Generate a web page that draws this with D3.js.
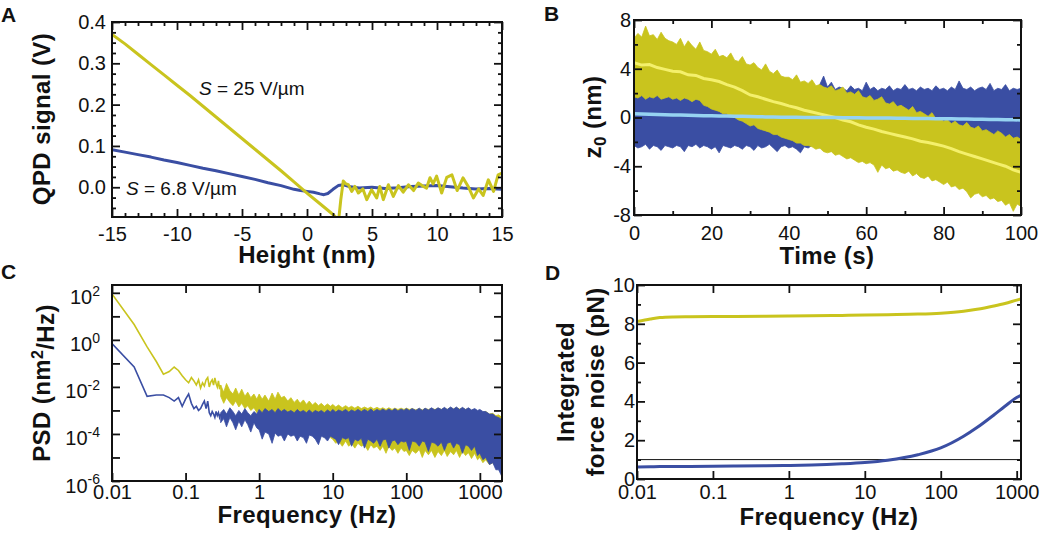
<!DOCTYPE html>
<html><head><meta charset="utf-8">
<script src="https://cdn.jsdelivr.net/npm/d3@7/dist/d3.min.js"></script>
<style>
body{margin:0;background:#fff}
svg{display:block}
text{font-family:"Liberation Sans",Arial,Helvetica,sans-serif;fill:#111}
</style></head>
<body><svg id="fig" width="1050" height="539"></svg>
<script>
// ---------------- Panel A data ----------------
const heightYellow = [-15,-14,-13,-12,-11,-10,-9,-8,-7,-6,-5,-4,-3,-2,-1,0,1,2,2.3,2.45,2.6,2.79,3.0,3.18,3.44,3.69,3.95,4.3,4.6,4.97,5.36,5.6,5.87,6.26,6.64,7.03,7.4,7.8,8.2,8.56,8.85,9.2,9.46,9.7,9.97,10.36,10.75,11.15,11.55,12.0,12.4,12.8,13.2,13.55,13.95,14.35,14.7,15];
const qpdYellow = [0.370,0.347,0.322,0.297,0.272,0.247,0.222,0.196,0.170,0.144,0.118,0.092,0.066,0.040,0.013,-0.014,-0.040,-0.066,-0.075,-0.075,-0.03,0.015,0.008,0.006,-0.010,0.002,-0.014,-0.004,-0.030,-0.006,-0.026,0.002,-0.030,0.006,-0.022,0.004,-0.012,0.006,-0.008,0.010,0.004,-0.002,0.023,0.008,0.027,-0.014,0.024,0.030,-0.008,0.023,0.002,-0.026,-0.004,-0.020,0.018,-0.010,0.030,0.034];
const heightBlue = [-15,-14,-13,-12,-11,-10,-9,-8,-7,-6,-5,-4,-3,-2,-1,-0.5,0,0.5,1,1.3,1.6,2,2.4,2.8,3.2,4,5,6,7,8,9,10,11,12,13,14,15];
const qpdBlue = [0.091,0.085,0.079,0.073,0.066,0.060,0.053,0.046,0.040,0.033,0.026,0.019,0.011,0.004,-0.005,-0.008,-0.010,-0.012,-0.016,-0.018,-0.015,-0.005,0.004,0.006,0.002,-0.002,0.000,-0.003,-0.001,0.002,0.003,0.004,0.001,-0.002,-0.004,-0.003,-0.005];
const aXMajor = [-15,-10,-5,0,5,10,15];
const aXMinor = [-14,-13,-12,-11,-9,-8,-7,-6,-4,-3,-2,-1,1,2,3,4,6,7,8,9,11,12,13,14];
const aYMajor = [0,0.1,0.2,0.3,0.4];
const aYMinor = [-0.05,-0.025,0.025,0.05,0.075,0.125,0.15,0.175,0.225,0.25,0.275,0.325,0.35,0.375];

// ---------------- Panel B data (envelopes at 1 s, running means at 2 s) ----------------
const timeBand = d3.range(0,101,1);
const yellowUpper = [6.5,6.9,6.6,7.5,6.7,6.8,6.4,7.0,6.5,6.3, 6.2,6.0,6.5,5.8,6.3,5.9,5.6,6.2,5.5,5.4, 5.2,5.6,5.0,5.1,4.9,5.3,4.7,4.6,5.0,4.4, 4.3,4.5,4.1,3.9,4.4,3.8,3.6,3.9,3.4,3.3, 3.3,3.1,3.5,2.9,3.0,2.8,3.1,2.6,2.7,2.5, 2.4,2.6,2.2,2.3,2.5,2.0,2.1,1.9,2.2,1.7, 1.6,1.8,1.4,1.5,1.7,1.2,1.1,1.3,0.9,1.0, 0.8,0.6,0.9,0.4,0.5,0.3,0.1,0.4,-0.1,0.0, -0.3,-0.2,-0.5,-0.3,-0.6,-0.7,-0.4,-0.8,-0.9,-0.7, -1.1,-1.0,-1.2,-1.4,-1.1,-1.3,-1.6,-1.4,-1.7,-1.6,-1.8];
const yellowLower = [1.7,1.6,1.8,1.5,1.7,1.6,1.8,1.5,1.6,1.7, 1.5,1.6,1.4,1.6,1.5,1.3,1.5,1.4,1.0,0.9, 0.7,0.6,0.5,0.3,0.3,0.1,0.0,-0.2,-0.3,-0.5, -0.7,-0.6,-0.9,-1.0,-1.1,-1.2,-1.4,-1.4,-1.6,-1.7, -1.8,-1.9,-2.1,-2.1,-2.3,-2.3,-2.4,-2.6,-2.5,-2.8, -2.9,-2.8,-3.1,-3.0,-3.2,-3.4,-3.3,-3.5,-3.7,-3.6, -3.8,-3.7,-3.9,-4.5,-3.9,-4.2,-4.1,-4.4,-4.3,-4.5, -4.6,-4.4,-4.8,-4.6,-4.9,-5.0,-4.8,-5.2,-5.1,-5.3, -5.5,-5.3,-5.7,-5.6,-5.9,-5.8,-6.1,-6.6,-6.3,-6.2, -6.5,-6.4,-6.7,-6.6,-6.9,-6.8,-7.2,-7.0,-7.7,-7.1,-7.3];
const blueUpper = [2.2,2.4,2.3,2.1,2.5,2.3,2.2,2.4,2.2,2.3, 2.4,2.2,2.3,2.5,2.2,2.3,2.4,2.2,2.3,2.2, 2.3,2.4,2.2,2.5,2.3,2.2,2.4,2.3,2.2,2.4, 2.2,2.3,2.5,2.2,2.4,2.3,2.2,2.4,2.3,2.5, 2.3,2.2,2.4,2.3,2.5,2.2,2.6,2.4,2.7,3.4, 2.5,2.9,2.3,2.5,2.4,2.2,2.6,2.3,2.4,2.2, 2.9,2.3,2.5,2.2,2.4,2.3,2.6,2.2,2.4,2.3, 2.7,2.3,2.4,2.2,2.5,2.3,2.4,2.2,2.6,2.3, 2.4,2.2,2.5,2.3,3.0,2.4,2.3,2.5,2.2,2.4, 2.5,2.3,2.8,2.2,2.4,2.3,2.7,2.2,2.4,2.3,2.4];
const blueLower = [-2.3,-2.5,-2.4,-2.2,-2.6,-2.3,-2.4,-2.7,-2.3,-2.4, -2.5,-2.3,-2.4,-2.8,-2.3,-2.4,-2.2,-2.5,-2.3,-2.4, -2.6,-2.4,-2.9,-2.3,-2.4,-2.5,-2.3,-2.4,-2.6,-2.3, -2.4,-2.7,-2.3,-2.5,-2.4,-2.2,-2.5,-2.8,-2.4,-2.3, -2.5,-2.4,-2.6,-2.9,-2.4,-2.5,-2.3,-2.4,-2.5,-2.4, -2.3,-2.5,-2.4,-2.6,-2.3,-2.4,-2.5,-2.3,-2.4,-2.6, -2.3,-2.5,-2.4,-2.3,-2.6,-2.4,-2.5,-2.3,-2.4,-2.5, -2.3,-2.4,-2.6,-2.3,-2.5,-2.4,-2.3,-2.5,-2.4,-2.6, -2.3,-2.4,-2.5,-2.3,-2.4,-2.6,-2.3,-2.5,-2.4,-2.3, -2.5,-2.4,-2.6,-2.3,-2.4,-2.5,-2.3,-2.4,-2.6,-2.3,-2.4];
const timeMean = d3.range(0,101,2);
const yellowMean = [4.5,4.3,4.35,4.1,3.95,3.8,3.75,3.5,3.45,3.2, 3.1,2.95,2.7,2.5,2.2,1.85,1.7,1.5,1.3,1.15, 0.95,0.8,0.6,0.45,0.3,0.15,0.0,-0.2,-0.35,-0.6, -0.8,-0.95,-1.15,-1.3,-1.45,-1.6,-1.75,-1.95,-2.05,-2.2, -2.35,-2.55,-2.8,-3.0,-3.2,-3.4,-3.6,-3.8,-4.0,-4.3,-4.5];
const blueMean = [0.3,0.28,0.26,0.25,0.22,0.2,0.2,0.18,0.16,0.15, 0.15,0.13,0.12,0.1,0.1,0.08,0.06,0.05,0.04,0.03, 0.02,0.02,0.01,0.0,0.0,0.0,-0.01,-0.02,-0.02,-0.03, -0.04,-0.04,-0.05,-0.05,-0.06,-0.07,-0.08,-0.08,-0.09,-0.1, -0.1,-0.11,-0.12,-0.13,-0.14,-0.15,-0.16,-0.17,-0.18,-0.19,-0.2];
const bXMajor = [0,20,40,60,80,100];
const bXMinor = [10,30,50,70,90];
const bYMajor = [-8,-4,0,4,8];
const bYMinor = [-6,-2,2,6];

// ---------------- Panel C data ----------------
const freqLow = [0.01,0.02,0.03,0.04,0.05,0.06,0.07,0.08,0.09,0.10,0.11,0.12,0.13,0.14,0.15,0.16,0.17,0.18,0.19,0.20,0.21,0.22,0.23,0.24,0.25,0.26,0.27,0.28,0.29,0.30];
const psdYellowLow = [90,4.5,0.5,0.12,0.035,0.045,0.07,0.05,0.03,0.02,0.015,0.025,0.018,0.012,0.02,0.009,0.015,0.011,0.02,0.025,0.01,0.016,0.02,0.012,0.024,0.014,0.01,0.018,0.008,0.012];
const psdBlueLow = [0.7,0.07,0.004,0.0045,0.0045,0.0035,0.0025,0.0035,0.0015,0.003,0.005,0.002,0.0012,0.0015,0.001,0.0012,0.0018,0.0025,0.0012,0.0025,0.0008,0.0006,0.0009,0.0007,0.0005,0.0009,0.0006,0.0008,0.0005,0.0007];
const freqBand = [0.3,0.33,0.36,0.4,0.44,0.48,0.53,0.58,0.64,0.7,0.77,0.85,0.93,1.0,1.1,1.2,1.35,1.5,1.65,1.8,2.0,2.2,2.45,2.7,3,3.3,3.6,4,4.4,4.8,5.3,5.8,6.4,7,7.7,8.5,9.3,10,11,12,13.5,15,16.5,18,20,22,24.5,27,30,33,36,40,44,48,53,58,64,70,77,85,93,100,110,120,135,150,165,180,200,220,245,270,300,330,360,400,440,480,530,580,640,700,770,850,930,1000,1100,1200,1350,1500,1650,1800,2000];
const psdYellowUpper = [1.2e-2,6e-3,1.4e-2,7e-3,5e-3,9e-3,4.5e-3,8e-3,4e-3,6e-3,3.5e-3,5e-3,3e-3, 5e-3,3e-3,4.5e-3,2.5e-3,5.5e-3,3e-3,6e-3,3.5e-3,4e-3,2.5e-3, 3.5e-3,2.2e-3,3e-3,2e-3,2.8e-3,1.8e-3,2.5e-3,1.7e-3,2.2e-3,1.6e-3,2e-3,1.5e-3,1.9e-3,1.5e-3, 1.8e-3,1.4e-3,1.7e-3,1.3e-3,1.6e-3,1.3e-3,1.5e-3,1.25e-3,1.5e-3,1.2e-3,1.4e-3,1.2e-3,1.4e-3,1.15e-3,1.35e-3,1.15e-3,1.3e-3,1.1e-3,1.3e-3,1.1e-3,1.25e-3,1.1e-3,1.25e-3,1.1e-3, 1.25e-3,1.1e-3,1.2e-3,1.05e-3,1.2e-3,1.05e-3,1.2e-3,1.1e-3,1.2e-3,1.1e-3,1.25e-3,1.1e-3,1.25e-3,1.1e-3,1.3e-3,1.15e-3,1.3e-3,1.15e-3,1.25e-3,1.1e-3,1.2e-3,1.0e-3,1.1e-3,9e-4, 1.0e-3,8e-4,9e-4,7e-4,7.5e-4,6e-4,6.5e-4,5e-4];
const psdYellowLower = [4e-3,2e-3,3.5e-3,2.2e-3,1.6e-3,2.5e-3,1.4e-3,2e-3,1.2e-3,1.6e-3,1.0e-3,1.3e-3,8e-4, 1.1e-3,7e-4,9e-4,6e-4,8e-4,5e-4,7e-4,4e-4,6e-4,4e-4, 3e-4,2e-4,2.5e-4,1.5e-4,2e-4,1.2e-4,1.5e-4,1e-4,1.2e-4,8e-5,1e-4,7e-5,9e-5,7e-5, 6e-5,4e-5,5e-5,3e-5,5e-5,3e-5,4e-5,2.5e-5,4e-5,3e-5,3.5e-5,2e-5,3.5e-5,2.5e-5,3e-5,2e-5,3e-5,1.5e-5,3e-5,2e-5,2.5e-5,1.5e-5,2.5e-5,1.8e-5, 2e-5,1.2e-5,2e-5,1.5e-5,2.2e-5,1e-5,2e-5,1.3e-5,2e-5,1e-5,1.8e-5,1.2e-5,2e-5,1.1e-5,1.8e-5,1.3e-5,2e-5,1e-5,1.8e-5,1.2e-5,1.6e-5,9e-6,1.5e-5,8e-6, 1e-5,6e-6,8e-6,5e-6,6e-6,4e-6,5e-6,3e-6];
const psdBlueUpper = [8e-4,1.1e-3,7e-4,1.3e-3,9e-4,6e-4,1e-3,7e-4,1.2e-3,8e-4,6e-4,9e-4,7e-4, 1.1e-3,8e-4,1.2e-3,9e-4,1.1e-3,8e-4,1.2e-3,9e-4,1.1e-3,8.5e-4, 1e-3,8e-4,1.1e-3,8.5e-4,1e-3,8e-4,1.05e-3,8e-4,1e-3,8.5e-4,1e-3,8e-4,1.05e-3,8.5e-4, 1.1e-3,8.5e-4,1.05e-3,9e-4,1.1e-3,8.5e-4,1.05e-3,9e-4,1.1e-3,9e-4,1.1e-3,9e-4,1.15e-3,9e-4,1.1e-3,9.5e-4,1.15e-3,9.5e-4,1.15e-3,9.5e-4,1.2e-3,9.5e-4,1.15e-3,1e-3, 1.2e-3,1e-3,1.2e-3,1e-3,1.25e-3,1e-3,1.25e-3,1.05e-3,1.3e-3,1.05e-3,1.3e-3,1.1e-3,1.35e-3,1.1e-3,1.4e-3,1.15e-3,1.4e-3,1.1e-3,1.35e-3,1.1e-3,1.3e-3,1.05e-3,1.2e-3,1e-3, 1.1e-3,9e-4,9e-4,7e-4,7e-4,5.5e-4,5e-4,4e-4];
const psdBlueLower = [3e-4,4.5e-4,2e-4,5e-4,3e-4,1.5e-4,3.5e-4,2e-4,4e-4,2.5e-4,1.2e-4,3e-4,1.8e-4, 1.5e-4,6e-5,1.2e-4,1e-4,4e-5,1.1e-4,8e-5,9e-5,5e-5,1e-4, 8e-5,9e-5,5e-5,8e-5,7e-5,4e-5,9e-5,8e-5,6e-5,3.5e-5,8e-5,7e-5,5e-5,8e-5, 7e-5,6e-5,3.5e-5,7e-5,6e-5,7e-5,3e-5,6e-5,5e-5,6.5e-5,2.5e-5,6e-5,5e-5,4e-5,6e-5,3e-5,5.5e-5,6e-5,2.5e-5,5e-5,5.5e-5,3.5e-5,5e-5,4.5e-5, 5e-5,2e-5,5e-5,4.5e-5,3e-5,5e-5,4.5e-5,1.8e-5,4.5e-5,4e-5,3e-5,4.5e-5,2e-5,4e-5,4.5e-5,2.5e-5,4e-5,3.5e-5,1.5e-5,3.5e-5,3e-5,2e-5,3e-5,1.2e-5, 1.5e-5,8e-6,1e-5,5e-6,6e-6,3e-6,3e-6,1.5e-6];
const cXTicks = [0.01,0.1,1,10,100,1000];
const cYTicks = [1e-6,1e-5,1e-4,1e-3,1e-2,1e-1,1,10,100];

// ---------------- Panel D data ----------------
const freqD = [0.01,0.015,0.02,0.03,0.05,0.1,0.2,0.5,1,2,5,10,20,50,100,200,300,500,700,1000,1140];
const forceYellow = [8.12,8.25,8.32,8.35,8.36,8.37,8.38,8.39,8.40,8.41,8.43,8.45,8.47,8.50,8.55,8.65,8.75,8.92,9.05,9.22,9.28];
const forceBlue = [0.62,0.63,0.64,0.64,0.65,0.66,0.67,0.68,0.70,0.72,0.78,0.85,0.97,1.25,1.60,2.20,2.65,3.30,3.75,4.20,4.32];
const forceRef = [1.0];
const dXTicks = [0.01,0.1,1,10,100,1000];
const dYMajor = [0,2,4,6,8,10];
const dYMinor = [1,3,5,7,9];

// ---------------- styles ----------------
const YEL = "#c9c41e", BLU = "#3a4ea3", LYEL = "#f4f06c", LBLU = "#96d3f2", INK = "#111";
const TICK_FS = 20;
const svg = d3.select("#fig");
svg.append("rect").attr("width",1050).attr("height",539).attr("fill","#fff");

function clip(id, b){
  svg.append("clipPath").attr("id",id).append("rect")
    .attr("x",b.l).attr("y",b.t).attr("width",b.r-b.l).attr("height",b.b-b.t);
  return svg.append("g").attr("clip-path",`url(#${id})`);
}
function ax(axis, tr, vals, size, fmt, pad){
  const a = svg.append("g").attr("transform",tr)
    .call(axis.tickValues(vals).tickSize(size).tickPadding(pad||0).tickFormat(fmt||(()=>"")));
  a.attr("font-size",null).attr("font-family",null);
  a.select(".domain").remove();
  a.selectAll("line").attr("stroke",INK).attr("stroke-width",1.8);
  a.selectAll("text").attr("font-size",TICK_FS).attr("fill",INK);
  return a;
}
function axes(b, x, y, o){
  const bx = ax(d3.axisBottom(x), `translate(0,${b.b})`, o.xMaj, -8, o.xFmt, o.xPad);
  if (o.xMin) ax(d3.axisBottom(x), `translate(0,${b.b})`, o.xMin, -4);
  ax(d3.axisTop(x), `translate(0,${b.t})`, o.xMaj, -8);
  if (o.xMin) ax(d3.axisTop(x), `translate(0,${b.t})`, o.xMin, -4);
  const ly = ax(d3.axisLeft(y), `translate(${b.l},0)`, o.yMaj, -8, o.yFmt, o.yPad);
  if (o.yMin) ax(d3.axisLeft(y), `translate(${b.l},0)`, o.yMin, -4);
  ax(d3.axisRight(y), `translate(${b.r},0)`, o.yMaj, -8);
  if (o.yMin) ax(d3.axisRight(y), `translate(${b.r},0)`, o.yMin, -4);
  return {bx, ly};
}
function frame(b){
  svg.append("rect").attr("x",b.l).attr("y",b.t).attr("width",b.r-b.l).attr("height",b.b-b.t)
    .attr("fill","none").attr("stroke",INK).attr("stroke-width",2);
}
function label(txt, x, y){
  svg.append("text").attr("x",x).attr("y",y).attr("font-size",21).attr("font-weight","bold").text(txt);
}
function xTitle(txt, x, y){
  return svg.append("text").attr("x",x).attr("y",y).attr("text-anchor","middle")
    .attr("font-size",24).attr("font-weight","bold").attr("letter-spacing",0.4).text(txt);
}
function yTitle(x, y){
  return svg.append("text").attr("transform",`translate(${x},${y}) rotate(-90)`).attr("text-anchor","middle")
    .attr("font-size",24).attr("font-weight","bold").attr("letter-spacing",0.4);
}
const plain = d => String(d);

// ================= Panel A =================
{
  const b = {l:112, r:502, t:22, b:217};
  const x = d3.scaleLinear().domain([-15,15]).range([b.l,b.r]);
  const y = d3.scaleLinear().domain([-0.072,0.4]).range([b.b,b.t]);
  const g = clip("clipA", b);
  const line = d3.line().x(d=>x(d[0])).y(d=>y(d[1]));
  g.append("path").attr("d", line(d3.zip(heightBlue, qpdBlue))).attr("fill","none").attr("stroke",BLU).attr("stroke-width",3).attr("stroke-linejoin","round");
  g.append("path").attr("d", line(d3.zip(heightYellow, qpdYellow))).attr("fill","none").attr("stroke",YEL).attr("stroke-width",3).attr("stroke-linejoin","round");
  axes(b, x, y, {xMaj:aXMajor, xMin:aXMinor, xFmt:plain, xPad:10, yMaj:aYMajor, yMin:aYMinor, yFmt:d3.format(".1f"), yPad:6});
  frame(b);
  const s1 = svg.append("text").attr("x",199).attr("y",95).attr("font-size",19);
  s1.append("tspan").attr("font-style","italic").text("S");
  s1.append("tspan").text(" = 25 V/µm");
  const s2 = svg.append("text").attr("x",126).attr("y",195).attr("font-size",19);
  s2.append("tspan").attr("font-style","italic").text("S");
  s2.append("tspan").text(" = 6.8 V/µm");
  xTitle("Height (nm)", 307, 263);
  yTitle(50, 119).text("QPD signal (V)");
  label("A", 1, 22);
}

// ================= Panel B =================
{
  const b = {l:634, r:1021, t:20, b:215};
  const x = d3.scaleLinear().domain([0,100]).range([b.l,b.r]);
  const y = d3.scaleLinear().domain([-8,8]).range([b.b,b.t]);
  const g = clip("clipB", b);
  const area = (lo, hi) => d3.area().x((d,i)=>x(timeBand[i])).y0((d,i)=>y(lo[i])).y1((d,i)=>y(hi[i]))(timeBand);
  g.append("path").attr("d", area(blueLower, blueUpper)).attr("fill",BLU).attr("stroke",BLU).attr("stroke-width",0.8);
  g.append("path").attr("d", area(yellowLower, yellowUpper)).attr("fill",YEL).attr("stroke",YEL).attr("stroke-width",0.8);
  const line = d3.line().x(d=>x(d[0])).y(d=>y(d[1]));
  g.append("path").attr("d", line(d3.zip(timeMean, yellowMean))).attr("fill","none").attr("stroke",LYEL).attr("stroke-width",3);
  g.append("path").attr("d", line(d3.zip(timeMean, blueMean))).attr("fill","none").attr("stroke",LBLU).attr("stroke-width",3.5);
  axes(b, x, y, {xMaj:bXMajor, xMin:bXMinor, xFmt:plain, xPad:11, yMaj:bYMajor, yMin:bYMinor, yFmt:plain, yPad:3});
  frame(b);
  xTitle("Time (s)", 827, 264);
  const t = yTitle(601, 117);
  t.append("tspan").text("z");
  t.append("tspan").attr("dy","0.3em").attr("font-size",17).text("0");
  t.append("tspan").attr("dy","-0.22em").text(" (nm)");
  label("B", 544, 21);
}

// ================= Panel C =================
{
  const b = {l:112, r:502, t:285, b:481};
  const x = d3.scaleLog().domain([0.01,2000]).range([b.l,b.r]);
  const y = d3.scaleLog().domain([1e-6,215]).range([b.b,b.t]);
  const g = clip("clipC", b);
  const line = d3.line().x(d=>x(d[0])).y(d=>y(d[1]));
  const area = (lo, hi) => d3.area().x((d,i)=>x(freqBand[i])).y0((d,i)=>y(lo[i])).y1((d,i)=>y(hi[i]))(freqBand);
  g.append("path").attr("d", line(d3.zip(freqLow, psdYellowLow))).attr("fill","none").attr("stroke",YEL).attr("stroke-width",1.6);
  g.append("path").attr("d", area(psdYellowLower, psdYellowUpper)).attr("fill",YEL).attr("stroke",YEL).attr("stroke-width",0.8);
  g.append("path").attr("d", line(d3.zip(freqLow, psdBlueLow))).attr("fill","none").attr("stroke",BLU).attr("stroke-width",1.6);
  g.append("path").attr("d", area(psdBlueLower, psdBlueUpper)).attr("fill",BLU).attr("stroke",BLU).attr("stroke-width",0.8);
  const {ly} = axes(b, x, y, {xMaj:cXTicks, xFmt:plain, xPad:4, yMaj:cYTicks, yFmt:plain, yPad:12});
  ly.selectAll("text").attr("dy","0.55em").each(function(d){
    const e = Math.round(Math.log10(d));
    const t = d3.select(this).text("");
    if (e % 2 !== 0) return;
    t.append("tspan").text("10");
    t.append("tspan").attr("dy","-0.6em").attr("font-size",14).text(String(e));
  });
  frame(b);
  xTitle("Frequency (Hz)", 307, 523);
  const t = yTitle(50, 383);
  t.append("tspan").text("PSD (nm");
  t.append("tspan").attr("dy","-0.45em").attr("font-size",16).text("2");
  t.append("tspan").attr("dy","0.45em").text("/Hz)");
  label("C", 1, 279);
}

// ================= Panel D =================
{
  const b = {l:637, r:1021, t:285, b:479};
  const x = d3.scaleLog().domain([0.01,1140]).range([b.l,b.r]);
  const y = d3.scaleLinear().domain([0,10]).range([b.b,b.t]);
  const g = clip("clipD", b);
  const line = d3.line().x(d=>x(d[0])).y(d=>y(d[1])).curve(d3.curveMonotoneX);
  g.selectAll("line.ref").data(forceRef).join("line").attr("class","ref")
    .attr("x1",b.l).attr("x2",b.r).attr("y1",d=>y(d)).attr("y2",d=>y(d)).attr("stroke",INK).attr("stroke-width",1);
  g.append("path").attr("d", line(d3.zip(freqD, forceYellow))).attr("fill","none").attr("stroke",YEL).attr("stroke-width",3);
  g.append("path").attr("d", line(d3.zip(freqD, forceBlue))).attr("fill","none").attr("stroke",BLU).attr("stroke-width",3);
  axes(b, x, y, {xMaj:dXTicks, xFmt:plain, xPad:6, yMaj:dYMajor, yMin:dYMinor, yFmt:plain, yPad:2});
  frame(b);
  xTitle("Frequency (Hz)", 829, 525);
  yTitle(574, 382).text("Integrated");
  yTitle(604, 382).text("force noise (pN)");
  label("D", 545, 280);
}
</script></body></html>
